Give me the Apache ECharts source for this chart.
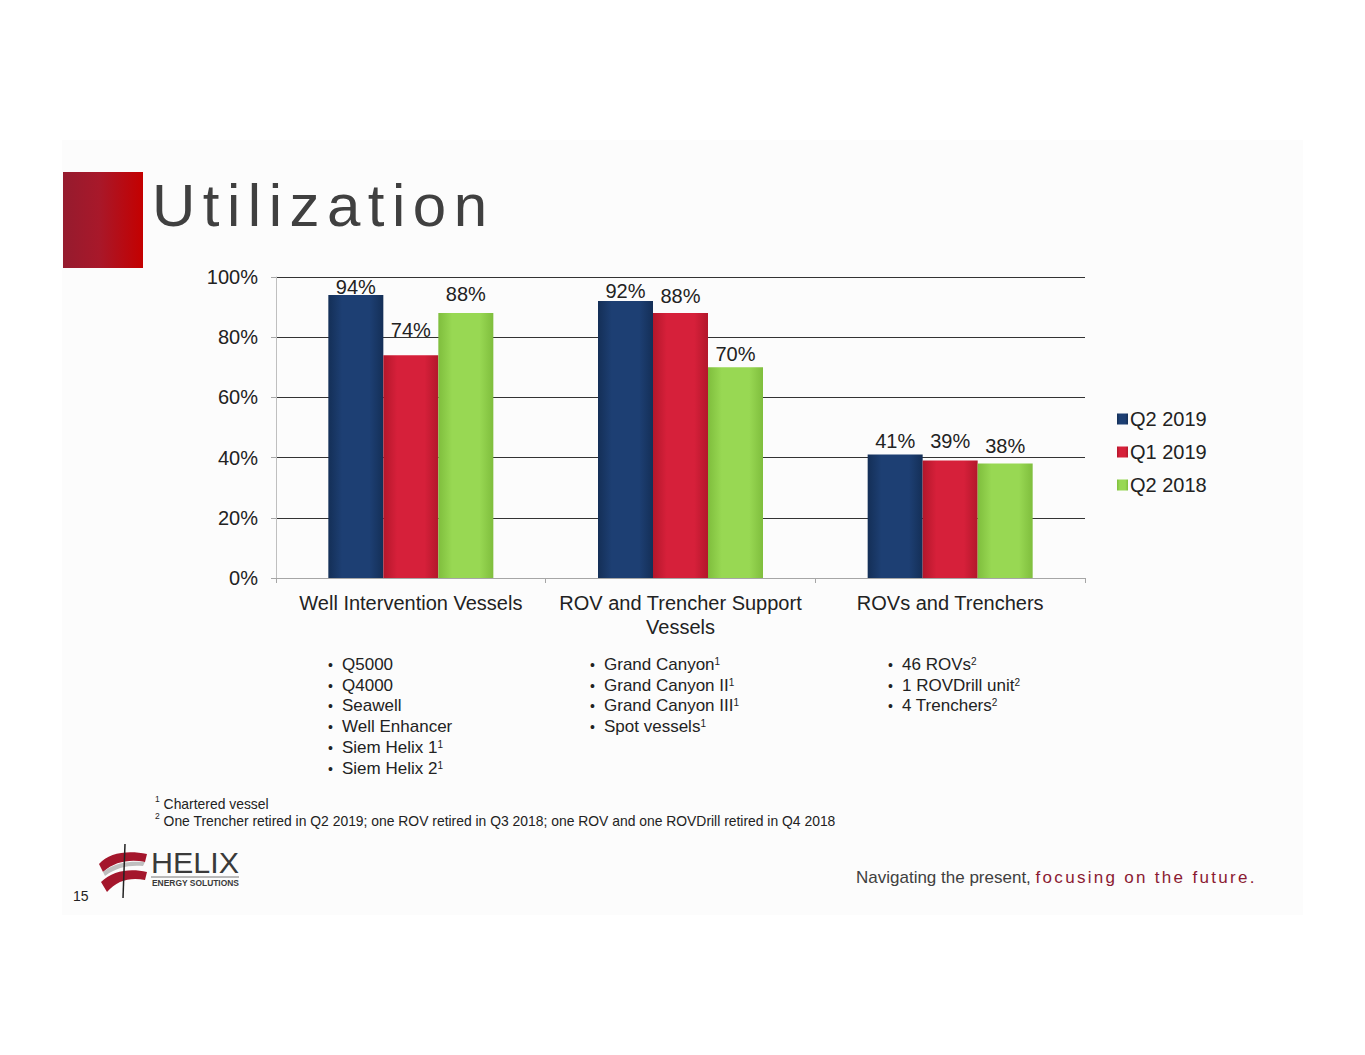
<!DOCTYPE html>
<html>
<head>
<meta charset="utf-8">
<script src="https://cdn.jsdelivr.net/npm/echarts@6/dist/echarts.min.js"></script>
<style>
  html, body { margin:0; padding:0; background:#ffffff; }
  body { width:1365px; height:1055px; position:relative; overflow:hidden; font-family:"Liberation Sans", Arial, sans-serif; }
  #panel { position:absolute; left:62px; top:140px; width:1241px; height:775px; background:#fcfcfc; }
  #chart { position:absolute; left:0; top:0; width:1365px; height:1055px; }
  .abs { position:absolute; white-space:nowrap; }
  #redbox { left:63px; top:172px; width:80px; height:96px; background:linear-gradient(to right,#951b2e,#a8182a 45%,#c40000); }
  #title { left:152px; top:170px; font-size:60px; letter-spacing:7.5px; color:#404040; line-height:72px; }
  ul.bl { position:absolute; margin:0; padding:0; list-style:none; font-size:17px; color:#222; line-height:20.7px; }
  ul.bl li { position:relative; padding-left:12px; }
  ul.bl li:before { content:"\2022"; position:absolute; left:-2px; top:0; font-size:14px; }
  sup { font-size:10px; vertical-align:top; position:relative; top:-3px; }
  .fn { font-size:13.9px; color:#222; }
  .fn sup { font-size:8.5px; top:-2px; }
</style>
</head>
<body>
<div id="panel"></div>
<div id="chart"></div>
<div class="abs" id="redbox"></div>
<div class="abs" id="title">Utilization</div>

<ul class="bl" style="left:330px; top:655px;">
  <li>Q5000</li><li>Q4000</li><li>Seawell</li><li>Well Enhancer</li><li>Siem Helix 1<sup>1</sup></li><li>Siem Helix 2<sup>1</sup></li>
</ul>
<ul class="bl" style="left:592px; top:655px;">
  <li>Grand Canyon<sup>1</sup></li><li>Grand Canyon II<sup>1</sup></li><li>Grand Canyon III<sup>1</sup></li><li>Spot vessels<sup>1</sup></li>
</ul>
<ul class="bl" style="left:890px; top:655px;">
  <li>46 ROVs<sup>2</sup></li><li>1 ROVDrill unit<sup>2</sup></li><li>4 Trenchers<sup>2</sup></li>
</ul>

<div class="abs fn" style="left:155px; top:796px;"><sup>1</sup> Chartered vessel</div>
<div class="abs fn" style="left:155px; top:813px;"><sup>2</sup> One Trencher retired in Q2 2019; one ROV retired in Q3 2018; one ROV and one ROVDrill retired in Q4 2018</div>

<svg class="abs" style="left:95px; top:842px;" width="150" height="58" viewBox="0 0 150 58">
  <path d="M4,22 C14,10 34,8 52,12 L50,20 C36,17 20,19 8,30 Z" fill="#a4162c"/>
  <path d="M6,40 C18,28 36,26 52,30 L50,38 C36,35 22,38 12,50 Z" fill="#a4162c"/>
  <path d="M8,30 C20,20 36,19 50,20 L48,24 C34,23 22,25 10,34 Z" fill="#bfbfbf"/>
  <line x1="30" y1="2" x2="28" y2="56" stroke="#222" stroke-width="1.5"/>
  <text x="56" y="31" font-family="Liberation Sans Narrow, Liberation Sans, Arial" font-size="30" fill="#3a3a3a" textLength="88" lengthAdjust="spacingAndGlyphs">HELIX</text>
  <line x1="56" y1="35" x2="144" y2="35" stroke="#555" stroke-width="0.8"/>
  <text x="57" y="44" font-family="Liberation Sans Narrow, Liberation Sans, Arial" font-size="8.5" font-weight="bold" fill="#3a3a3a" textLength="87" lengthAdjust="spacingAndGlyphs">ENERGY SOLUTIONS</text>
</svg>
<div class="abs" style="left:73px; top:888px; font-size:14px; color:#222;">15</div>

<div class="abs" style="left:856px; top:868px; font-size:17px; color:#404040;">Navigating the present, <span style="color:#8b1a32; letter-spacing:2.3px;">focusing on the future.</span></div>

<script>
const categories = ['Well Intervention Vessels', 'ROV and Trencher Support\nVessels', 'ROVs and Trenchers'];
const seriesNames = ['Q2 2019', 'Q1 2019', 'Q2 2018'];
const q2_2019 = [94, 92, 41];
const q1_2019 = [74, 88, 39];
const q2_2018 = [88, 70, 38];
const yTicks = [0, 20, 40, 60, 80, 100];

// label distance styling (kept separate from data)
const labelDist = [[-2, 0, 4], [15, 7, 10], [9, 3, 8]];

function grad(edge, mid) {
  return new echarts.graphic.LinearGradient(0, 0, 1, 0, [
    {offset: 0, color: edge}, {offset: 0.25, color: mid}, {offset: 0.75, color: mid}, {offset: 1, color: edge}
  ]);
}
const colors = [
  grad('#142f57', '#1d3f73'),
  grad('#b3172b', '#d6203a'),
  grad('#7fbe3d', '#98d853')
];
const legendColors = ['#1d3f73', '#d6203a', '#98d853'];
const seriesData = [q2_2019, q1_2019, q2_2018];

const chart = echarts.init(document.getElementById('chart'), null, {renderer: 'svg'});
chart.setOption({
  animation: false,
  color: legendColors,
  textStyle: {fontFamily: '"Liberation Sans", Arial, sans-serif'},
  grid: {left: 276, top: 277, width: 809, height: 301, containLabel: false},
  legend: {
    orient: 'vertical', left: 1112, top: 404, itemWidth: 11, itemHeight: 11, itemGap: 13,
    icon: 'rect', textStyle: {fontSize: 20, color: '#222', padding: [0, 0, 0, -3]},
    data: seriesNames
  },
  xAxis: {
    type: 'category', data: categories,
    axisLine: {show: true, lineStyle: {color: '#a6a6a6'}},
    axisTick: {show: true, length: 5, lineStyle: {color: '#a6a6a6'}},
    axisLabel: {fontSize: 20, color: '#222', margin: 13, lineHeight: 24, interval: 0}
  },
  yAxis: {
    type: 'value', min: 0, max: 100, interval: 20,
    axisLine: {show: true, lineStyle: {color: '#bfbfbf'}},
    axisTick: {show: true, length: 5, lineStyle: {color: '#a6a6a6'}},
    splitLine: {show: true, lineStyle: {color: '#333', width: 1}},
    axisLabel: {fontSize: 20, color: '#222', margin: 18, formatter: v => v + '%'}
  },
  series: seriesNames.map((name, i) => ({
    name: name, type: 'bar', barWidth: 55, barGap: '0%',
    itemStyle: {color: colors[i]},
    data: seriesData[i].map((v, j) => ({
      value: v,
      label: {distance: labelDist[i][j]}
    })),
    label: {show: true, position: 'top', fontSize: 20, color: '#222', formatter: p => p.value + '%'}
  }))
});
</script>
</body>
</html>
